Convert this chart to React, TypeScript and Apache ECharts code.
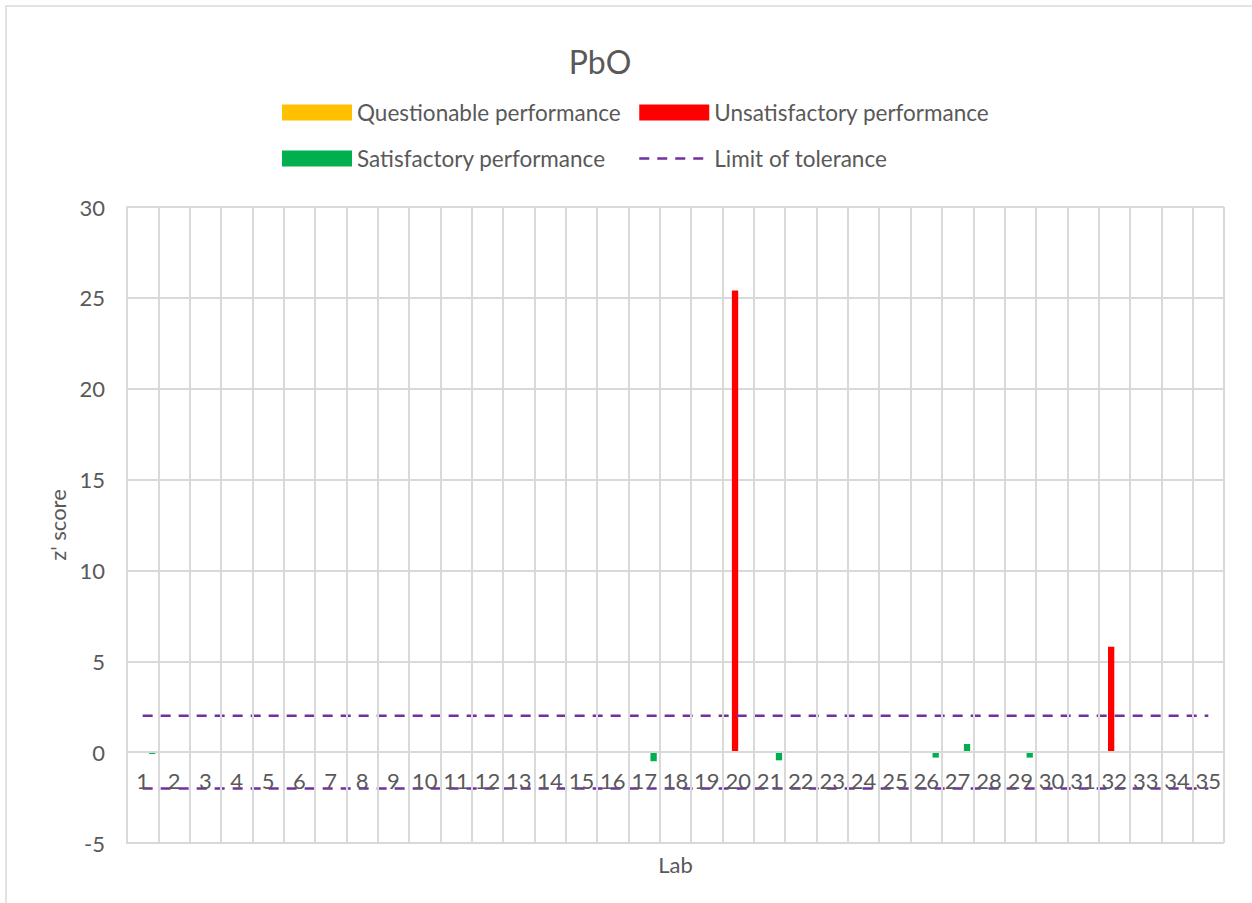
import React, { useEffect, useRef } from "react";
import * as echarts from "echarts";

const labs: string[] = [
  "1","2","3","4","5","6","7","8","9","10","11","12","13","14","15","16","17","18",
  "19","20","21","22","23","24","25","26","27","28","29","30","31","32","33","34","35",
];

// z' scores by category of performance (null = no value in this class)
const questionable: (number | null)[] = [
  null,null,null,null,null,null,null,null,null,null,null,null,null,null,null,null,null,null,
  null,null,null,null,null,null,null,null,null,null,null,null,null,null,null,null,null,
];
const unsatisfactory: (number | null)[] = [
  null,null,null,null,null,null,null,null,null,null,null,null,null,null,null,null,null,null,
  null,25.4,null,null,null,null,null,null,null,null,null,null,null,5.8,null,null,null,
];
const satisfactory: (number | null)[] = [
  -0.1,null,null,null,null,null,null,null,null,null,null,null,null,null,null,null,-0.5,null,
  null,null,-0.45,null,null,null,null,-0.3,0.45,null,-0.3,null,null,null,null,null,null,
];
const upperLimit: number[] = [
  2,2,2,2,2,2,2,2,2,2,2,2,2,2,2,2,2,2,2,2,2,2,2,2,2,2,2,2,2,2,2,2,2,2,2,
];
const lowerLimit: number[] = [
  -2,-2,-2,-2,-2,-2,-2,-2,-2,-2,-2,-2,-2,-2,-2,-2,-2,-2,-2,-2,-2,-2,-2,-2,-2,-2,-2,-2,-2,-2,-2,-2,-2,-2,-2,
];

const FONT = "Lato";
const TXT = "#595959";
const GRID = "#d9d9d9";
const PURPLE = "#7030A0";

const Y_MIN = -5;
const Y_MAX = 30;
const GRID_TOP = 207;
const GRID_BOTTOM = 60;
const CHART_H = 903;

export default function App() {
  const ref = useRef<HTMLDivElement>(null);
  useEffect(() => {
    if (!ref.current) return;
    const chart = echarts.init(ref.current, undefined, { renderer: "svg" });
    const barCommon = { type: "bar" as const, barWidth: 6.3, barGap: "0%", barCategoryGap: "20%" };
    const legendText = { fontFamily: FONT, fontSize: 22.5, color: TXT, lineHeight: 22 };
    // place the category axis where y = 0 (as in the reference)
    const plotH = CHART_H - GRID_TOP - GRID_BOTTOM;
    const zeroOffset = -(plotH * (0 - Y_MIN)) / (Y_MAX - Y_MIN);
    chart.setOption({
      animation: false,
      backgroundColor: "#ffffff",
      textStyle: { fontFamily: FONT },
      title: {
        text: "PbO",
        left: 595,
        top: 40,
        textAlign: "center",
        textStyle: { fontFamily: FONT, fontSize: 32, fontWeight: "normal", color: TXT },
      },
      graphic: [
        {
          type: "rect",
          shape: { x: 6, y: 6, width: 1400, height: 1000 },
          style: { fill: "none", stroke: GRID, lineWidth: 1.5 },
          silent: true,
        },
      ],
      legend: [
        {
          left: 282,
          top: 101,
          padding: 0,
          orient: "vertical",
          itemWidth: 70,
          itemHeight: 16,
          itemGap: 23,
          icon: "rect",
          data: ["Questionable performance", "Satisfactory performance"],
          textStyle: legendText,
        },
        {
          left: 638,
          top: 101,
          padding: 0,
          orient: "vertical",
          itemWidth: 70,
          itemHeight: 16,
          itemGap: 23,
          data: [
            { name: "Unsatisfactory performance", icon: "rect" },
            {
              name: "Limit of tolerance",
              itemStyle: { opacity: 0 },
              lineStyle: { color: PURPLE, width: 2.5, type: [10, 8] },
            },
          ],
          textStyle: legendText,
        },
      ],
      grid: { left: 127, right: 28, top: GRID_TOP, bottom: GRID_BOTTOM, outerBoundsMode: "none", containLabel: false },
      xAxis: {
        type: "category",
        data: labs,
        z: 5,
        position: "bottom",
        offset: zeroOffset,
        name: "Lab",
        nameLocation: "middle",
        nameGap: 101,
        nameTextStyle: { fontFamily: FONT, fontSize: 22, color: TXT },
        axisLine: { show: true, onZero: false, lineStyle: { color: GRID, width: 2 } },
        axisTick: { show: false },
        axisLabel: { interval: 0, fontFamily: FONT, fontSize: 22, color: TXT, margin: 17 },
        splitLine: { show: true, interval: 0, lineStyle: { color: GRID, width: 2 } },
      },
      yAxis: {
        type: "value",
        min: Y_MIN,
        max: Y_MAX,
        interval: 5,
        name: "z' score",
        nameLocation: "middle",
        nameGap: 56,
        nameTextStyle: { fontFamily: FONT, fontSize: 22, color: TXT },
        axisLine: { show: true, lineStyle: { color: GRID, width: 2 } },
        axisTick: { show: false },
        axisLabel: { fontFamily: FONT, fontSize: 22, color: TXT, margin: 22 },
        splitLine: { show: true, lineStyle: { color: GRID, width: 2 } },
      },
      series: [
        { ...barCommon, name: "Questionable performance", data: questionable, itemStyle: { color: "#FFC000" } },
        { ...barCommon, name: "Unsatisfactory performance", data: unsatisfactory, itemStyle: { color: "#FF0000" } },
        { ...barCommon, name: "spacer", data: [], itemStyle: { color: "transparent" } },
        { ...barCommon, name: "Satisfactory performance", data: satisfactory, itemStyle: { color: "#00B050" } },
        {
          type: "line",
          name: "Limit of tolerance",
          data: upperLimit,
          symbol: "none",
          z: 3,
          itemStyle: { color: PURPLE },
          lineStyle: { color: PURPLE, width: 2.5, type: [10, 8] },
        },
        {
          type: "line",
          name: "Limit of tolerance",
          data: lowerLimit,
          symbol: "none",
          z: 3,
          itemStyle: { color: PURPLE },
          lineStyle: { color: PURPLE, width: 2.5, type: [10, 8] },
        },
      ],
    });
    return () => chart.dispose();
  }, []);
  return (
    <div
      ref={ref}
      style={{ position: "fixed", left: 0, top: 0, width: 1252, height: 903 }}
    />
  );
}
